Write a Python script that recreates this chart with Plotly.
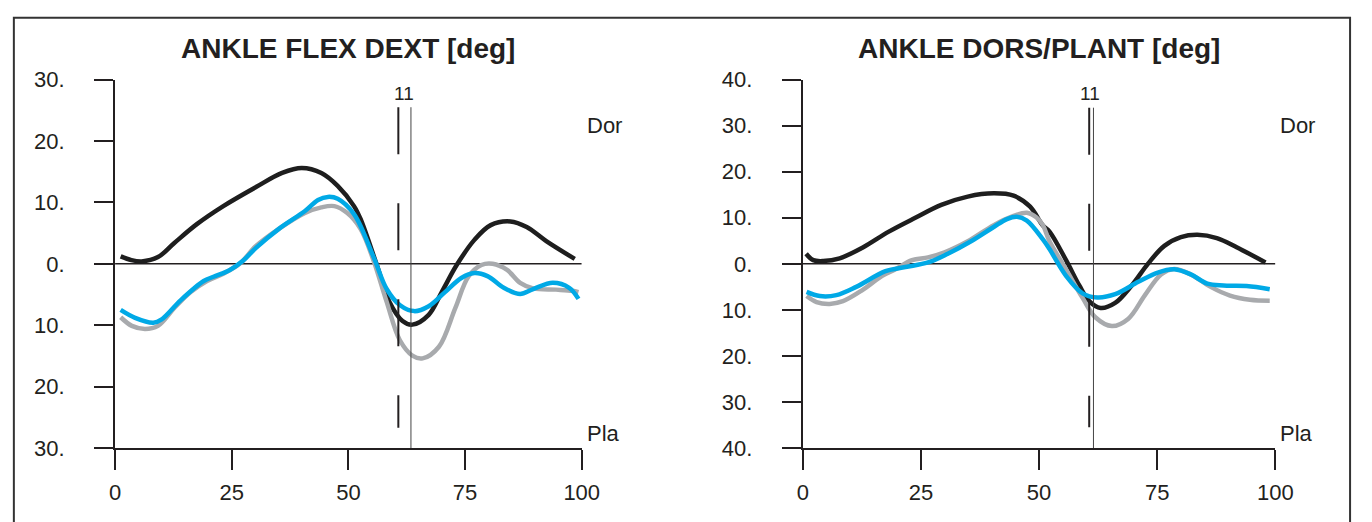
import plotly.graph_objects as go

W, H = 1372, 522

# ---------------- data ----------------
# Left panel: ANKLE FLEX DEXT
lf_black_x = [1.2, 3.5, 5.7, 9.2, 12.7, 17.6, 23.2, 30.2, 35.8, 40, 44.2, 47.7, 51.2, 52.6, 56.0, 58.8, 61.6, 63.7, 67.2, 70, 73.2, 77, 80.5, 84.7, 88.2, 92.4, 98.5]
lf_black_y = [1.2, 0.6, 0.4, 1.1, 3.4, 6.5, 9.4, 12.5, 14.8, 15.6, 14.8, 12.7, 9.4, 7.3, 0.0, -6.2, -9.3, -9.9, -8.3, -4.6, -0.2, 3.9, 6.3, 6.9, 6.0, 3.7, 0.8]

lf_gray_x = [1.2, 3.6, 6.4, 9.2, 12.7, 16.2, 19.7, 23.2, 26.7, 30.2, 35.1, 40.7, 44.2, 47, 49.7, 52.6, 55.4, 58.2, 61, 63.8, 65.9, 69.4, 72.9, 75.7, 78.5, 80.9, 84, 86.8, 89.6, 94.5, 98, 99.3]
lf_gray_y = [-8.7, -10.1, -10.6, -10.1, -7.2, -4.6, -2.8, -1.6, 0.0, 2.9, 5.7, 8.3, 9.2, 9.4, 8.3, 5.7, 0.5, -6.2, -12.4, -15.0, -15.4, -13.5, -7.2, -2.1, -0.2, 0.0, -1.0, -3.1, -4.0, -4.2, -4.4, -4.6]

lf_blue_x = [1.2, 4.3, 8.2, 9.9, 14.1, 19, 21.1, 24.6, 27.4, 30.2, 35.1, 40.7, 43.5, 45.6, 47.7, 51.2, 55.4, 58.2, 61, 64.1, 67.2, 70.7, 74.2, 77, 79.8, 83.3, 86.8, 89.6, 93.8, 97.3, 99.3]
lf_blue_y = [-7.5, -8.8, -9.6, -9.1, -5.9, -2.8, -2.1, -1.0, 0.5, 2.6, 5.7, 8.6, 10.4, 10.9, 10.6, 8.1, 1.1, -4.1, -6.7, -7.7, -6.9, -4.6, -2.3, -1.5, -2.0, -3.9, -4.9, -4.1, -3.1, -3.9, -5.7]

# Right panel: ANKLE DORS/PLANT
rt_black_x = [0.7, 2.2, 4.3, 7.8, 12.6, 18.2, 23.8, 29.3, 34.9, 40.4, 44.6, 48.1, 50.8, 52.2, 55.7, 58.5, 60.6, 63, 66.1, 69.6, 73.1, 76.5, 80, 83.5, 87.6, 91.8, 97.9]
rt_black_y = [2.2, 0.8, 0.6, 1.2, 3.5, 7.0, 10.0, 12.8, 14.6, 15.3, 14.8, 12.4, 8.3, 7.0, 0.8, -4.7, -8.1, -9.6, -8.5, -4.7, 0.1, 3.9, 5.8, 6.3, 5.6, 3.6, 0.3]

rt_gray_x = [0.8, 2.9, 5.7, 8.5, 12.6, 16.8, 19.6, 23.1, 26.5, 30, 34.9, 40.4, 44.6, 47.4, 49.4, 50.8, 52.2, 55.7, 59.2, 61.9, 65.4, 68.9, 72.4, 75.8, 78.6, 82.1, 86.3, 90.4, 94.6, 98.8]
rt_gray_y = [-7.0, -8.3, -8.7, -8.1, -5.7, -2.6, -1.2, 0.8, 1.4, 2.5, 4.9, 8.4, 10.4, 11.1, 10.1, 8.4, 4.9, -1.2, -7.4, -11.6, -13.5, -11.9, -6.8, -2.3, -1.1, -2.3, -5.0, -6.9, -7.8, -8.0]

rt_blue_x = [0.8, 3.6, 7.1, 11.3, 17.5, 21.7, 26.5, 30.7, 35.6, 40.4, 43.2, 45.3, 47.4, 50.8, 52.2, 55.7, 59.2, 62.3, 66.1, 71, 75.1, 78.6, 82.1, 85.6, 89, 93.9, 98.8]
rt_blue_y = [-6.1, -7.0, -6.8, -5.0, -1.6, -0.7, 0.3, 2.2, 4.9, 8.0, 9.7, 10.2, 9.4, 5.3, 3.2, -2.6, -6.4, -7.3, -6.6, -3.9, -1.9, -1.2, -2.3, -4.3, -4.7, -4.8, -5.5]

titles = ["ANKLE FLEX DEXT [deg]", "ANKLE DORS/PLANT [deg]"]
left_ticks = [30, 20, 10, 0, -10, -20, -30]
left_ticktext = ["30.", "20.", "10.", "0.", "10.", "20.", "30."]
right_ticks = [40, 30, 20, 10, 0, -10, -20, -30, -40]
right_ticktext = ["40.", "30.", "20.", "10.", "0.", "10.", "20.", "30.", "40."]
x_ticks = [0, 25, 50, 75, 100]
x_ticktext = ["0", "25", "50", "75", "100"]

# event markers (x positions of dashed and solid vertical lines) and their label
left_events = [60.7, 63.4]
right_events = [60.6, 61.5]
event_label = "11"

# ---------------- figure ----------------
BLACK = "#1e1e1e"
GRAY = "#a8aaad"
BLUE = "#00a9e6"
AX = "#231f20"
FONT = "Liberation Sans, Arial, Helvetica, sans-serif"

fig = go.Figure()

panels = [
    ("x", "y", lf_black_x, lf_black_y, lf_gray_x, lf_gray_y, lf_blue_x, lf_blue_y),
    ("x2", "y2", rt_black_x, rt_black_y, rt_gray_x, rt_gray_y, rt_blue_x, rt_blue_y),
]
for xa, ya, bx, by, gx, gy, cx, cy in panels:
    for xs, ys, col in [(bx, by, BLACK), (gx, gy, GRAY), (cx, cy, BLUE)]:
        fig.add_trace(go.Scatter(x=xs, y=ys, mode="lines", xaxis=xa, yaxis=ya,
                                 line=dict(color=col, width=4.5, shape="spline", smoothing=1.0),
                                 showlegend=False, hoverinfo="skip"))

xdom_l = [111 / W, 586 / W]
xdom_r = [811 / W, 1292 / W]
ydom = [1 - 458 / H, 1 - 71 / H]

axis_common = dict(showgrid=False, zeroline=False, showline=True, linecolor=AX, linewidth=2,
                   ticks="outside", tickcolor=AX, tickwidth=2,
                   tickfont=dict(family=FONT, size=22, color="#231f20"))

fig.update_layout(
    width=W, height=H, margin=dict(l=0, r=0, t=0, b=0),
    paper_bgcolor="white", plot_bgcolor="white",
    xaxis=dict(domain=xdom_l, range=[0, 100], anchor="y", tickvals=x_ticks, ticktext=x_ticktext,
               ticklen=20, ticklabelstandoff=4, **axis_common),
    yaxis=dict(domain=ydom, range=[-30, 30], anchor="x", tickvals=left_ticks, ticktext=left_ticktext,
               ticklen=19, ticklabelstandoff=25, **axis_common),
    xaxis2=dict(domain=xdom_r, range=[0, 100], anchor="y2", tickvals=x_ticks, ticktext=x_ticktext,
                ticklen=20, ticklabelstandoff=4, **axis_common),
    yaxis2=dict(domain=ydom, range=[-40, 40], anchor="x2", tickvals=right_ticks, ticktext=right_ticktext,
                ticklen=19, ticklabelstandoff=25, **axis_common),
)

shapes = []
annotations = []
# zero lines
for xa, ya in [("x", "y"), ("x2", "y2")]:
    shapes.append(dict(type="line", xref=xa, yref=ya, x0=0, x1=100, y0=0, y1=0,
                       line=dict(color=AX, width=1.5), layer="below"))

# event lines
for xa, ya, ev, ytop, ydash_end, ybot in [("x", "y", left_events, 25.5, -26.7, -30),
                                            ("x2", "y2", right_events, 33.9, -35.5, -40)]:
    shapes.append(dict(type="line", xref=xa, yref=ya, x0=ev[0], x1=ev[0], y0=ytop, y1=ydash_end,
                       line=dict(color=AX, width=2, dash="47px,49px")))
    shapes.append(dict(type="line", xref=xa, yref=ya, x0=ev[1], x1=ev[1], y0=ytop, y1=ybot,
                       line=dict(color="#444444", width=1)))
    annotations.append(dict(xref=xa, yref="paper", x=(ev[0] + ev[1]) / 2, y=1 - 86 / H, text=event_label,
                            showarrow=False, font=dict(family=FONT, size=19, color="#231f20"),
                            xanchor="center", yanchor="middle", xshift=-1))

# Outer frame
shapes.append(dict(type="rect", xref="paper", yref="paper", x0=8 / W, x1=1368 / W, y0=-0.2, y1=1 - 6 / H,
                   line=dict(color="#333333", width=2), fillcolor="rgba(0,0,0,0)"))

# Titles
for dom, t in [(xdom_l, titles[0]), (xdom_r, titles[1])]:
    annotations.append(dict(xref="paper", yref="paper", x=(dom[0] + dom[1]) / 2, y=1 - 38 / H, text="<b>%s</b>" % t,
                            showarrow=False, font=dict(family=FONT, size=28, color="#231f20"),
                            xanchor="center", yanchor="middle"))
# Dor / Pla labels
for dom in [xdom_l, xdom_r]:
    annotations.append(dict(xref="paper", yref="paper", x=dom[1], y=1 - 119 / H, text="Dor",
                            showarrow=False, font=dict(family=FONT, size=22, color="#231f20"),
                            xanchor="left", yanchor="middle", xshift=3))
    annotations.append(dict(xref="paper", yref="paper", x=dom[1], y=1 - 443 / H, text="Pla",
                            showarrow=False, font=dict(family=FONT, size=22, color="#231f20"),
                            xanchor="left", yanchor="middle", xshift=3))

fig.update_layout(shapes=shapes, annotations=annotations)
fig.write_html("out.html", config={"displayModeBar": False},
               post_script="document.body.style.margin='0';document.body.style.overflow='hidden';")
